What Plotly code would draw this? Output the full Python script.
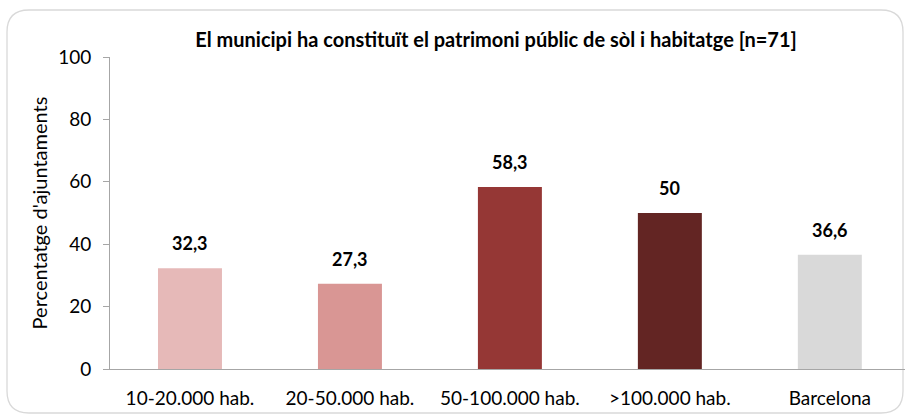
import plotly.graph_objects as go

categories = ["10-20.000 hab.", "20-50.000 hab.", "50-100.000 hab.", ">100.000 hab.", "Barcelona"]
values = [32.3, 27.3, 58.3, 50, 36.6]
colors = ["#E6B9B8", "#D99694", "#953735", "#632523", "#D9D9D9"]
y_ticks = [0, 20, 40, 60, 80, 100]

W, H = 905, 416
L, R, T, B = 110, 0, 57, 47
pw, ph = W - L - R, H - T - B

def px(x):
    return (x - L) / pw

def py(y):
    return (H - B - y) / ph

def fmt(v):
    s = ("%g" % v)
    return s.replace(".", ",")

fig = go.Figure()
fig.add_trace(go.Bar(
    x=list(range(len(categories))), y=values,
    marker=dict(color=colors, line=dict(width=0)),
    width=0.4, hoverinfo="skip",
))

for i, v in enumerate(values):
    fig.add_annotation(x=i, y=v, text="<b>%s</b>" % fmt(v), showarrow=False,
                       yanchor="bottom", yshift=12,
                       font=dict(family="Lato", size=18, color="#000000"))

# rounded card border
x0, y0, x1, y1, r = 7, 10, 903, 413, 22
path = ("M {a},{b} L {c},{b} Q {d},{b} {d},{e} L {d},{f} Q {d},{g} {c},{g} "
        "L {a},{g} Q {h},{g} {h},{f} L {h},{e} Q {h},{b} {a},{b} Z").format(
    a=px(x0 + r), b=py(y0), c=px(x1 - r), d=px(x1), e=py(y0 + r),
    f=py(y1 - r), g=py(y1), h=px(x0))
fig.add_shape(type="path", path=path, xref="paper", yref="paper",
              line=dict(color="#D9D9D9", width=1.3), layer="below")

fig.update_layout(
    width=W, height=H,
    margin=dict(l=L, r=R, t=T, b=B, autoexpand=False),
    plot_bgcolor="white", paper_bgcolor="white",
    showlegend=False,
    font=dict(family="Lato", size=19, color="#000000"),
    title=dict(text="<b>El municipi ha constituït el patrimoni públic de sòl i habitatge [n=71]</b>",
               x=496 / W, xanchor="center", y=1 - 40 / H, yanchor="middle",
               font=dict(family="Lato", size=20, color="#000000")),
    xaxis=dict(tickmode="array", tickvals=list(range(len(categories))), ticktext=categories,
               range=[-0.5, 4.47], showline=True, linecolor="#A6A6A6", linewidth=1,
               ticks="", showgrid=False, zeroline=False, ticklabelstandoff=12,
               tickfont=dict(size=19), automargin=False),
    yaxis=dict(range=[0, 100], tickvals=y_ticks, showline=True, linecolor="#A6A6A6",
               linewidth=1, ticks="outside", ticklen=6, tickcolor="#A6A6A6",
               showgrid=False, zeroline=False, tickfont=dict(size=19),
               ticklabelstandoff=8, automargin=False,
               title=dict(text="Percentatge d'ajuntaments", font=dict(size=20), standoff=5)),
)

fig.write_html("out.html", config={"displayModeBar": False},
               post_script="document.body.style.margin='0';document.body.style.overflow='hidden';")
